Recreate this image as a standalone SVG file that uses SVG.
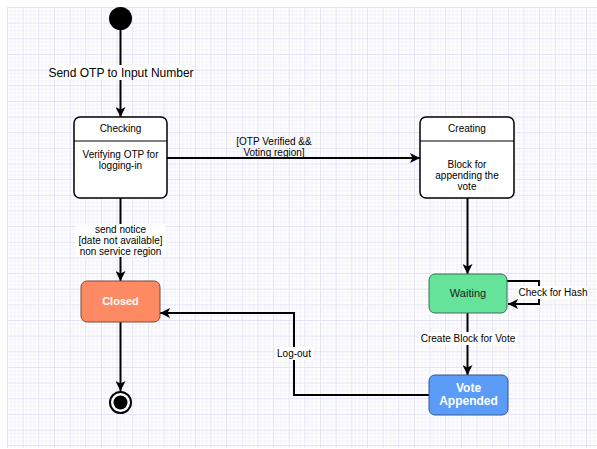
<svg xmlns="http://www.w3.org/2000/svg" width="597" height="449" viewBox="0 0 597 449">
<defs>
<pattern id="grid" x="7" y="7" width="15.65" height="15.65" patternUnits="userSpaceOnUse">
<path d="M3.91 0V15.65M7.82 0V15.65M11.74 0V15.65M0 3.91H15.65M0 7.82H15.65M0 11.74H15.65" stroke="#f1f1fc" stroke-width="1" fill="none"/>
<path d="M0.5 0V15.65M0 0.5H15.65" stroke="#e2e2f8" stroke-width="1" fill="none"/>
</pattern>
<marker id="arr" viewBox="0 0 10 10" refX="10" refY="5" markerWidth="5" markerHeight="5" orient="auto" markerUnits="strokeWidth">
<path d="M0 0L10 5L0 10L2.5 5Z" fill="#000"/>
</marker>
<style>
.ln{fill:none;stroke:#000;stroke-width:2;marker-end:url(#arr)}
.st{fill:#fff;stroke:#000;stroke-width:1.5}
.t{font-family:"Liberation Sans",Arial,sans-serif;font-size:10px;fill:#000;text-anchor:middle}
.tw{font-family:"Liberation Sans",Arial,sans-serif;font-size:11px;font-weight:bold;fill:#fff;text-anchor:middle}
.lbl{fill:#fff}
</style>
</defs>
<rect width="597" height="449" fill="#fff"/>
<rect x="7" y="7" width="590" height="441" fill="url(#grid)"/>

<g id="connectors">
<path class="ln" d="M120.5 30V117"/>
<rect class="lbl" x="51" y="65" width="140" height="15"/>
<text class="t" x="121" y="77" style="font-size:12px">Send OTP to Input Number</text>

<path class="ln" d="M167 158H420"/>
<text class="t" x="274" y="145">[OTP Verified &amp;&amp;</text>
<text class="t" x="274" y="156">Voting region]</text>

<path class="ln" d="M120.5 198V281"/>
<rect class="lbl" x="76" y="224" width="90" height="33"/>
<text class="t" x="120.5" y="233">send notice</text>
<text class="t" x="120.5" y="244">[date not available]</text>
<text class="t" x="120.5" y="255">non service region</text>

<path class="ln" d="M120.5 322V391"/>

<path class="ln" d="M467.5 198V274"/>

<path class="ln" d="M507 281H539V304H508"/>
<rect class="lbl" x="518" y="286" width="70" height="13"/>
<text class="t" x="553" y="296">Check for Hash</text>

<path class="ln" d="M467.5 313V375"/>
<rect class="lbl" x="419" y="332" width="98" height="13"/>
<text class="t" x="468" y="342">Create Block for Vote</text>

<path class="ln" d="M429 395H294V313H160"/>
<rect class="lbl" x="275" y="347" width="38" height="13"/>
<text class="t" x="294" y="357">Log-out</text>
</g>

<g id="initial">
<circle cx="120.5" cy="18.5" r="11.5" fill="#000"/>
</g>

<g id="checking">
<rect class="st" x="74" y="117" width="93" height="81" rx="6"/>
<path d="M74 141H167" stroke="#000" stroke-width="1.2"/>
<text class="t" x="120.5" y="132">Checking</text>
<text class="t" x="120.5" y="158">Verifying OTP for</text>
<text class="t" x="120.5" y="169">logging-in</text>
</g>

<g id="creating">
<rect class="st" x="420" y="117" width="94" height="81" rx="6"/>
<path d="M420 141H514" stroke="#000" stroke-width="1.2"/>
<text class="t" x="467" y="132">Creating</text>
<text class="t" x="467" y="168">Block for</text>
<text class="t" x="467" y="179">appending the</text>
<text class="t" x="467" y="190">vote</text>
</g>

<g id="closed">
<rect x="81" y="281" width="79" height="41" rx="6" fill="#fe8a63" stroke="#7a4a3a" stroke-width="1"/>
<text class="tw" x="120.5" y="305">Closed</text>
</g>

<g id="final">
<circle cx="120.5" cy="402.5" r="10.5" fill="#fff" stroke="#000" stroke-width="2"/>
<circle cx="120.5" cy="402.5" r="7" fill="#000"/>
</g>

<g id="waiting">
<rect x="429" y="274" width="78" height="39" rx="6" fill="#66e39a" stroke="#3c6e50" stroke-width="1"/>
<text class="t" x="468" y="297" style="font-size:11px;fill:#1a1a1a">Waiting</text>
</g>

<g id="vote_appended">
<rect x="429" y="375" width="79" height="40" rx="6" fill="#5a9cf8" stroke="#34588c" stroke-width="1"/>
<text class="tw" x="468.5" y="392" style="font-size:12px">Vote</text>
<text class="tw" x="468.5" y="405" style="font-size:12px">Appended</text>
</g>
</svg>
